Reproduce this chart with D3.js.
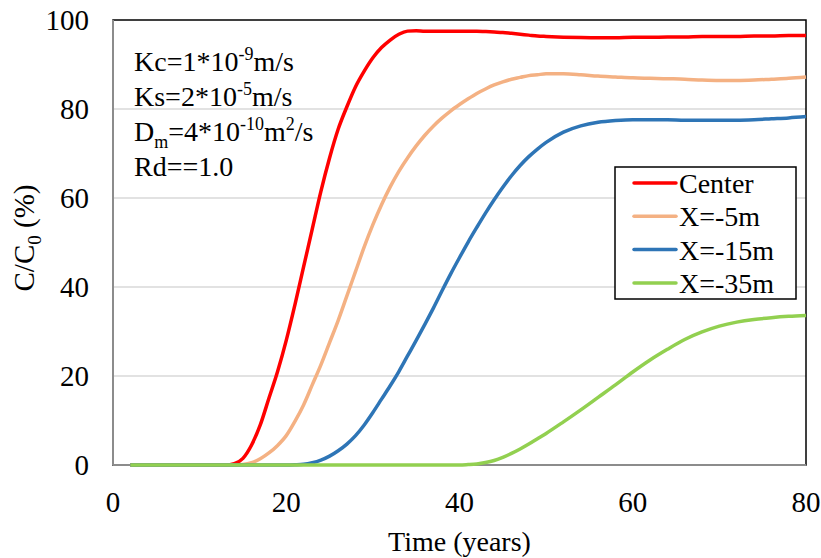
<!DOCTYPE html>
<html>
<head>
<meta charset="utf-8">
<script src="https://cdn.jsdelivr.net/npm/d3@7"></script>
<style>
  body { margin: 0; background: #fff; }
</style>
</head>
<body>
<div id="chart"></div>
<script>
// time axis (years) shared by every series
var years = [2, 6, 10, 12, 13, 14, 15, 16, 17, 18, 19, 20, 21, 22, 23, 24, 25, 26, 27, 28, 29, 30,
  31, 32, 33, 34, 35, 36, 37, 38, 39, 40, 41, 42, 43, 44, 45, 46, 47, 48, 49, 50,
  52, 54, 56, 58, 60, 62, 64, 66, 68, 70, 72, 74, 76, 78, 80];

// C/C0 (%) per series
var center = [0, 0, 0, 0, 0, 0.3, 1.5, 4.5, 9, 15, 21, 28, 36, 44.5, 53, 61.5, 69, 75.5, 80.5, 85, 88.5, 91.5,
  93.8, 95.5, 96.8, 97.5, 97.6, 97.5, 97.5, 97.5, 97.5, 97.5, 97.5, 97.5, 97.4, 97.3, 97.2, 97, 96.8, 96.6, 96.4, 96.3,
  96.15, 96.05, 96, 96, 96.1, 96.1, 96.2, 96.2, 96.3, 96.3, 96.3, 96.4, 96.4, 96.5, 96.5];
var x5 = [0, 0, 0, 0, 0, 0, 0.1, 0.5, 1.4, 2.7, 4.4, 6.6, 9.8, 13.5, 18, 22.5, 27.5, 32.5, 38, 43.5, 49, 54,
  58.5, 62.5, 66, 69, 71.7, 74.1, 76.2, 78, 79.6, 81, 82.3, 83.5, 84.5, 85.4, 86.1, 86.7, 87.1, 87.5, 87.7, 87.9,
  87.9, 87.7, 87.4, 87.2, 87, 86.9, 86.8, 86.7, 86.5, 86.4, 86.4, 86.5, 86.7, 86.9, 87.2];
var x15 = [0, 0, 0, 0, 0, 0, 0, 0, 0, 0, 0, 0, 0.05, 0.15, 0.5, 1.1, 2, 3.2, 4.7, 6.6, 9, 11.8,
  14.8, 17.8, 21, 24.5, 28, 31.6, 35.3, 39.2, 43, 46.6, 50.1, 53.4, 56.6, 59.6, 62.4, 65, 67.3, 69.3, 71, 72.5,
  74.8, 76.2, 77, 77.4, 77.6, 77.6, 77.6, 77.5, 77.5, 77.5, 77.5, 77.6, 77.8, 78, 78.3];
var x35 = [0, 0, 0, 0, 0, 0, 0, 0, 0, 0, 0, 0, 0, 0, 0, 0, 0, 0, 0, 0, 0, 0,
  0, 0, 0, 0, 0, 0, 0, 0, 0, 0, 0.1, 0.25, 0.55, 1, 1.7, 2.6, 3.6, 4.7, 5.9, 7.1,
  9.7, 12.4, 15.2, 18, 20.9, 23.6, 26, 28.2, 29.9, 31.2, 32.1, 32.7, 33.1, 33.4, 33.6];

var seriesNames = ['Center', 'X=-5m', 'X=-15m', 'X=-35m'];
var seriesValues = [center, x5, x15, x35];
var seriesColors = ['#ff0000', '#f4b183', '#2e75b6', '#92d050'];

var xTicks = [0, 20, 40, 60, 80];
var yTicks = [0, 20, 40, 60, 80, 100];

var width = 821, height = 558;
var margin = {left: 113, right: 15, top: 20, bottom: 93};
var plotW = width - margin.left - margin.right;
var plotH = height - margin.top - margin.bottom;
var serif = '"Liberation Serif", "Times New Roman", Times, Tinos, "Noto Serif", "DejaVu Serif", serif';

var svg = d3.select('#chart').append('svg')
  .attr('width', width)
  .attr('height', height)
  .style('font-family', serif);

var x = d3.scaleLinear().domain([0, 80]).range([margin.left, margin.left + plotW]);
var y = d3.scaleLinear().domain([0, 100]).range([margin.top + plotH, margin.top]);

// gridlines
svg.append('g').selectAll('line')
  .data(yTicks.filter(function(d) { return d > 0 && d < 100; }))
  .enter().append('line')
    .attr('x1', x(0)).attr('x2', x(80))
    .attr('y1', function(d) { return y(d); })
    .attr('y2', function(d) { return y(d); })
    .attr('stroke', '#d9d9d9')
    .attr('stroke-width', 1.5);

// plot border (top/right black)
svg.append('rect')
  .attr('x', x(0)).attr('y', y(100))
  .attr('width', x(80) - x(0)).attr('height', y(0) - y(100))
  .attr('fill', 'none')
  .attr('stroke', '#000')
  .attr('stroke-width', 1.5);

// axes lines in grey
svg.append('line')
  .attr('x1', x(0)).attr('x2', x(0)).attr('y1', y(0)).attr('y2', y(100))
  .attr('stroke', '#8c8c8c').attr('stroke-width', 2);
svg.append('line')
  .attr('x1', x(0)).attr('x2', x(80)).attr('y1', y(0)).attr('y2', y(0))
  .attr('stroke', '#8c8c8c').attr('stroke-width', 2);

// tick labels
svg.append('g').selectAll('text')
  .data(yTicks)
  .enter().append('text')
    .attr('x', 89)
    .attr('y', function(d) { return y(d); })
    .attr('dy', '0.35em')
    .attr('text-anchor', 'end')
    .style('font-size', '29px')
    .text(function(d) { return d; });

svg.append('g').selectAll('text')
  .data(xTicks)
  .enter().append('text')
    .attr('x', function(d) { return x(d); })
    .attr('y', 512)
    .attr('text-anchor', 'middle')
    .style('font-size', '29px')
    .text(function(d) { return d; });

// axis titles
svg.append('text')
  .attr('x', x(40))
  .attr('y', 551)
  .attr('text-anchor', 'middle')
  .style('font-size', '28px')
  .text('Time (years)');

var yTitle = svg.append('text')
  .attr('transform', 'translate(34,' + 238 + ') rotate(-90)')
  .attr('text-anchor', 'middle')
  .style('font-size', '29px');
yTitle.append('tspan').text('C/C');
yTitle.append('tspan').attr('dy', 7).style('font-size', '19px').text('0');
yTitle.append('tspan').attr('dy', -7).text(' (%)');

// curves
var line = d3.line()
  .x(function(d) { return x(d[0]); })
  .y(function(d) { return y(d[1]); })
  .curve(d3.curveMonotoneX);

seriesValues.forEach(function(vals, i) {
  svg.append('path')
    .datum(years.map(function(t, j) { return [t, vals[j]]; }))
    .attr('d', line)
    .attr('fill', 'none')
    .attr('stroke', seriesColors[i])
    .attr('stroke-width', 3.5)
    .attr('stroke-linejoin', 'round');
});

// parameter note
var note = svg.append('g');
function noteLine(yy, parts) {
  var t = note.append('text').attr('x', 134).attr('y', yy)
    .style('font-size', '28px');
  parts.forEach(function(p) {
    var s = t.append('tspan').text(p[0]);
    if (p[1] === 'sup') s.attr('dy', -11).style('font-size', '18px');
    if (p[1] === 'sub') s.attr('dy', 7).style('font-size', '18px');
    if (p[1] === 'upback') s.attr('dy', 11);
    if (p[1] === 'downback') s.attr('dy', -7);
  });
}
noteLine(71, [['Kc=1*10'], ['-9', 'sup'], ['m/s', 'upback']]);
noteLine(106, [['Ks=2*10'], ['-5', 'sup'], ['m/s', 'upback']]);
noteLine(141, [['D'], ['m', 'sub'], ['=4*10', 'downback'], ['-10', 'sup'], ['m', 'upback'], ['2', 'sup'], ['/s', 'upback']]);
noteLine(176, [['Rd==1.0']]);

// legend
var legend = svg.append('g');
legend.append('rect')
  .attr('x', 615).attr('y', 167)
  .attr('width', 181).attr('height', 132)
  .attr('fill', '#fff')
  .attr('stroke', '#000')
  .attr('stroke-width', 1.5);

seriesNames.forEach(function(name, i) {
  var cy = 183 + i * 33.3;
  legend.append('line')
    .attr('x1', 634).attr('x2', 676)
    .attr('y1', cy).attr('y2', cy)
    .attr('stroke', seriesColors[i])
    .attr('stroke-width', 3.5)
    .attr('stroke-linecap', 'round');
  legend.append('text')
    .attr('x', 679).attr('y', cy + 10)
    .style('font-size', '28px')
    .text(name);
});
</script>
</body>
</html>
